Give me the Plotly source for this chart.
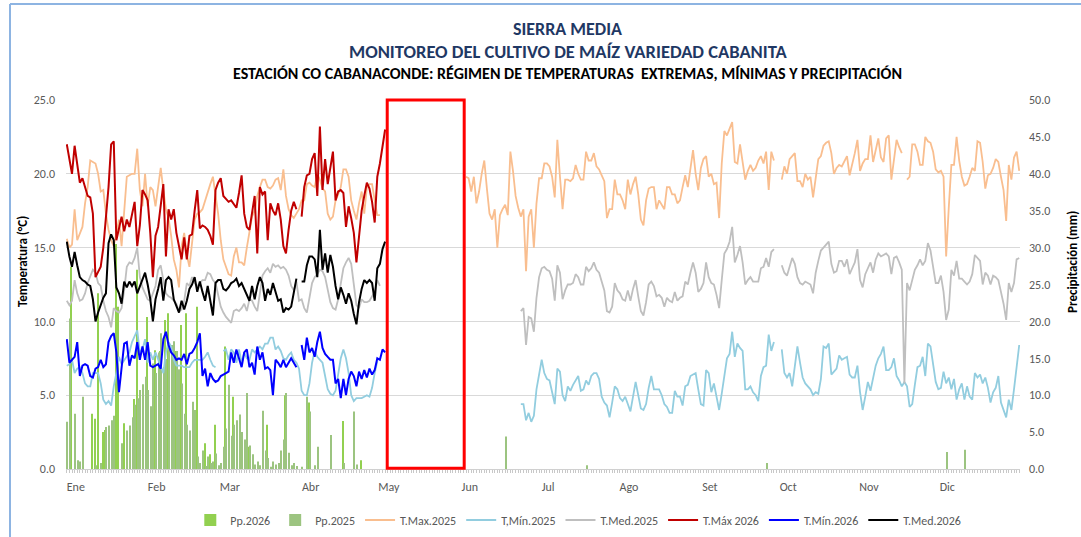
import plotly.graph_objects as go

# ---------------- categories (day of year, 0 = 1 Jan) ----------------
MONTHS = ["Ene", "Feb", "Mar", "Abr", "May", "Jun", "Jul", "Ago", "Set", "Oct", "Nov", "Dic"]
MONTH_START_DAY = [0, 31, 59, 90, 120, 151, 181, 212, 243, 273, 304, 334]

# ---------------- 2026 temperatures (days 0..122) ----------------
T_MAX_2026 = [
    22.0, 21.0, 20.0, 21.9, 20.5, 19.4, 19.7, 19.0, 18.5, 18.4,
    17.3, 13.0, 13.4, 13.7, 15.0, 17.0, 19.1, 22.0, 22.2, 15.5,
    16.3, 17.1, 16.1, 16.9, 16.4, 17.2, 18.1, 15.1, 16.5, 18.9,
    18.6, 18.2, 16.0, 13.0, 15.8, 16.4, 17.8, 19.3, 14.4, 17.6,
    16.9, 17.6, 16.0, 15.0, 14.2, 15.7, 14.2, 15.8, 15.9, 17.5,
    18.9, 16.3, 16.5, 16.4, 16.2, 15.8, 15.2, 18.9, 19.4, 19.7,
    18.5, 18.3, 18.1, 18.2, 17.9, 17.7, 18.7, 19.9, 17.3, 16.4,
    16.2, 17.5, 18.5, 14.6, 19.1, 18.6, 18.8, 15.5, 18.0, 17.5,
    17.2, 18.0, 16.9, 15.1, 14.6, 16.2, 17.5, 18.1, 17.6, None,
    17.1, 19.1, 19.9, 20.0, 21.0, 21.4, 18.5, 23.2, 18.9, 21.0,
    19.3, 20.5, 21.5, 18.2, 18.8, 18.9, 18.7, 16.4, 17.8, 17.0,
    16.0, 14.0, 16.0, 17.5, 18.5, 19.4, 19.0, 18.1, 16.7, 19.8,
    20.7, 21.8, 23.0,
]
T_MIN_2026 = [
    8.8, 7.2, 7.4, 7.6, 8.6, 6.3, 7.0, 7.1, 7.0, 6.3,
    6.2, 6.8, 6.9, 7.4, 6.9, 7.1, 8.6, 9.0, 9.2, 7.9,
    5.2, 6.8, 8.5, 8.6, 7.0, 7.7, 7.5, 8.6, 7.4, 8.3,
    7.4, 8.6, 7.0, 6.9, 7.0, 7.1, 6.8, 8.8, 9.3, 8.4,
    7.9, 7.7, 7.4, 7.5, 7.4, 7.8, 7.1, 7.8, 7.9, 8.2,
    8.6, 9.2, 6.3, 6.8, 5.6, 6.5, 6.1, 5.9, 6.0, 6.3,
    6.4, 6.5, 6.6, 7.9, 7.2, 8.1, 7.4, 6.9, 7.9, 8.1,
    6.9, 7.2, 6.4, 8.3, 7.4, 7.9, 6.8, 6.9, 6.7, 5.0,
    7.4, 7.2, 6.9, 7.4, 6.9, 7.2, 7.5, 7.2, 6.9, None,
    8.4, 7.4, 8.9, 7.9, 8.2, 7.6, 8.6, 9.3, 8.2, 7.8,
    7.6, 7.4, 7.4, 5.8, 6.1, 4.8, 6.1, 5.0, 6.1, 6.6,
    6.3, 5.6, 6.6, 6.1, 6.7, 6.2, 6.8, 6.4, 6.7, 7.5,
    7.4, 8.1, 7.9,
]
T_MED_2026 = [
    15.4, 14.4, 13.7, 14.7, 13.8, 13.0, 12.8, 12.7, 12.5, 12.4,
    11.5, 10.0, 10.6, 11.1, 11.6, 11.9, 15.3, 15.9, 15.5, 12.3,
    11.9, 11.2, 12.7, 12.3, 12.7, 12.4, 12.7, 11.9, 12.4, 12.8,
    13.3, 12.5, 11.5, 10.0, 11.5, 12.2, 13.0, 11.4, 12.8, 13.0,
    12.8, 11.5, 11.0, 10.6, 11.4, 10.8, 11.4, 12.2, 12.5, 13.0,
    12.0, 12.7, 12.0, 11.4, 12.4, 11.5, 10.4, 12.6, 12.8, 12.8,
    12.2, 12.1, 12.3, 12.6, 12.7, 12.9, 12.4, 12.6, 12.2, 11.9,
    11.4, 12.4, 11.5, 12.4, 13.0, 12.6, 11.4, 12.2, 11.8, 12.6,
    12.0, 11.4, 11.5, 10.6, 10.9, 10.8, 11.0, 12.0, 12.9, None,
    12.7, 12.7, 13.8, 14.4, 14.4, 14.2, 13.0, 16.2, 13.5, 14.6,
    13.3, 14.5, 13.7, 12.4, 11.5, 12.3, 11.8, 11.2, 11.9, 11.4,
    10.5, 9.8, 11.3, 12.2, 12.8, 12.6, 12.8, 12.6, 11.4, 13.6,
    13.9, 14.9, 15.4,
]

# ---------------- 2025 temperatures (days 0..365, None = no data) ----------------
T_MAX_2025 = [
    15.6, 15.0, 15.2, 17.6, 15.5, 15.9, 16.4, 18.0, 19.1, 20.9,
    20.8, 20.7, 20.0, 18.8, 18.9, 17.3, 16.2, 15.5, 15.1, 16.0,
    16.9, 15.1, 17.5, 19.8, 19.9, 20.0, 20.0, 21.7, 18.9, 17.8,
    20.0, 17.8, 19.1, 18.9, 17.8, 19.0, 20.4, 18.9, 17.6, 17.0,
    15.8, 14.2, 13.5, 12.3, 15.1, 16.0, 14.5, 13.7, 15.1, 16.9,
    17.3, 17.4, 17.6, 18.2, 18.8, 19.3, 19.8, 18.5, 17.3, 15.5,
    14.2, 13.7, 13.2, 13.1, 14.4, 15.0, 14.0, 14.0, 13.8, 15.0,
    16.2, 17.1, 17.5, 18.5, 19.1, 19.6, 19.6, 19.1, 19.0, 19.2,
    19.6, 19.7, 18.9, 20.3, 18.5, 17.6, 17.2, 17.0, 17.3, 17.6,
    18.2, 18.2, 19.3, 19.4, 19.2, 19.1, 20.0, 19.6, 19.0, 18.8,
    17.3, 16.9, 17.1, 18.2, 18.6, 19.1, 20.3, 20.3, 19.8, 18.2,
    17.5, 16.9, 18.0, 18.8, 17.3, 19.1, 19.3, 19.3, 18.2, 17.2,
    17.2,
] + [None] * 32 + [
    19.8, 19.7, 18.8, 19.8, 18.0, 18.8, 20.0, 20.9, 19.0, 17.3,
    16.9, 17.6, 15.0, 17.2, 17.6, 17.9, 17.2, 21.5, 20.2, 18.5,
    17.7, 17.1, 17.6, 13.4, 17.1, 17.6, 15.0, 18.0, 19.7, 19.7,
    20.7, 20.7, 20.5, 19.8, 18.4, 22.3, 19.8, 17.6, 19.6, 19.6,
    19.5, 19.7, 20.6, 20.0, 19.6, 19.6, 21.5, 20.9, 20.9, 21.4,
    20.5, 20.3, 19.9, 19.5, 17.0, 17.6, 17.6, 19.6, 18.6, 18.6,
    18.2, 17.6, 19.6, 18.6, 19.3, 19.8, 18.6, 16.9, 16.5, 18.2,
    19.0, 19.1, 19.1, 17.6, 18.2, 17.9, 17.6, 19.1, 19.1, 18.6,
    18.6, 18.0, 18.2, 19.1, 19.9, 19.1, 20.4, 21.6, 20.0, 18.9,
    20.4, 21.0, 21.2, 19.8, 20.0, 19.3, 19.4, 17.0, 20.7, 22.9,
    22.6, 23.0, 23.5, 20.8, 20.7, 22.0, 20.7, 19.6, 20.2, 20.6,
    20.2, 20.4, 20.9, 21.2, 20.7, 21.5, 18.9, 21.5, 20.9, None,
    None, 19.6, 20.5, 20.0, 21.0, 21.2, 21.4, 19.5, 19.5, 19.1,
    20.0, 19.6, 19.8, 18.4, 19.6, 21.0, 21.2, 21.9, 22.1, 22.2,
    21.4, 20.0, 20.4, 20.6, 20.5, 20.8, 21.2, 19.9, 20.6, 21.4,
    22.3, 20.2, 20.7, 21.0, 21.0, 22.6, 20.8, 21.6, 22.4, 21.1,
    20.8, 22.4, 22.6, 19.6, 21.1, 22.3, 21.8, 21.4, None, 19.6,
    19.8, 22.0, 22.0, 21.5, 20.6, 20.6, 22.5, 22.2, 22.1, 21.5,
    20.3, 20.1, 20.2, 19.8, 14.4, 17.7, 20.6, 20.6, 22.5, 20.9,
    19.8, 19.2, 19.3, 19.8, 20.4, 20.2, 22.2, 22.1, 20.8, 19.0,
    19.9, 20.0, 20.4, 21.0, 20.8, 19.8, 18.9, 16.8, 20.6, 19.6,
    21.1, 21.5, 20.2,
]
T_MIN_2025 = [
    7.0, 7.1, 7.4, 6.5, 6.8, 6.9, 6.5, 5.8, 5.6, 5.6,
    6.5, 6.5, 6.5, 5.8, 4.7, 4.4, 4.6, 4.3, 5.6, 6.5,
    7.6, 7.1, 7.4, 7.6, 7.9, 8.6, 9.0, 9.4, 7.9, 8.1,
    8.8, 7.2, 7.9, 7.4, 7.9, 7.4, 6.9, 6.5, 7.9, 8.6,
    8.3, 7.4, 7.0, 7.0, 7.0, 6.9, 6.9, 6.9, 7.2, 7.4,
    7.4, 7.4, 7.4, 7.6, 7.9, 7.4, 7.0, 6.9, None, None,
    8.0, 8.1, 7.4, 8.1, 7.9, 7.2, 8.1, 7.2, 7.9, 7.5,
    7.4, 8.1, 7.9, 8.1, 8.3, 8.1, 8.5, 8.5, 8.9, 8.9,
    8.1, 8.3, 8.0, 7.5, 7.4, 7.7, 7.9, 7.4, 7.2, 6.8,
    5.3, 5.0, 5.0, 5.8, 7.2, 8.0, 7.6, 7.4, 7.2, 6.3,
    5.4, 5.1, 5.0, 5.3, 6.3, 7.5, 8.1, 7.5, 6.5, 5.0,
    4.6, 4.8, 4.8, 4.8, 4.9, 5.0, 4.9, 5.5, 6.5, 7.3,
] + [None] * 54 + [
    4.4, 4.4, 3.3, 3.8, 3.2, 3.6, 5.4, 6.3, 7.4, 6.5,
    6.1, 6.0, 5.2, 4.4, 6.8, 6.6, 5.0, 4.6, 5.6, 5.3,
    5.7, 6.0, 6.3, 5.3, 5.4, 6.0, 5.7, 6.3, 6.5, 6.5,
    6.1, 4.9, 4.5, 4.3, 3.5, 4.5, 5.6, 5.4, 4.8, 4.6,
    4.9, 4.4, 3.9, 4.9, 5.9, 5.0, 4.1, 4.0, 4.4, 5.5,
    6.3, 5.4, 5.4, 5.4, 5.0, 4.4, 4.2, 3.8, 3.8, 5.3,
    4.9, 4.9, 4.3, 5.6, 5.7, 6.3, 6.4, 6.5, 5.4, 4.4,
    4.3, 6.7, 6.5, 5.2, 5.8, 5.0, 4.0, 5.1, 6.4, 7.5,
    7.8, 9.3, 7.6, 8.5, 8.2, 8.0, 5.4, 5.4, 5.6, 5.2,
    5.0, 4.6, 6.3, 6.9, 7.0, 9.1, 8.0, 8.6, None, None,
    8.1, 6.5, 6.2, 6.5, 5.6, 7.0, 8.3, 7.2, 6.2, 5.8,
    5.6, 5.4, 5.0, 5.2, 5.1, 6.1, 8.3, 8.2, 8.5, 6.4,
    6.6, 6.8, 7.7, 7.4, 7.5, 7.6, 6.4, 6.2, 6.2, 7.0,
    5.2, 4.0, 4.9, 5.9, 5.3, 6.2, 7.0, 7.5, 7.8, 8.3,
    6.7, 6.7, 6.9, 7.5, 6.3, 6.0, 5.6, 5.9, 5.6, 4.2,
    4.4, 5.7, 6.9, 7.0, 7.6, 6.3, 8.5, 8.3, 7.1, 5.9,
    5.4, 5.5, 6.6, 5.8, 6.2, 5.4, 6.1, 4.7, 5.4, 5.8,
    4.7, 5.6, 4.9, 4.7, 6.5, 6.2, 6.4, 5.8, 6.2, 5.5,
    4.5, 5.2, 5.5, 6.3, 4.5, 4.0, 3.5, 4.7, 4.0, 5.4,
    6.8, 8.4,
]
T_MED_2025 = [
    11.4, 11.1, 11.4, 12.8, 11.9, 11.4, 11.5, 11.9, 12.6, 13.0,
    13.5, 13.3, 12.6, 12.4, 11.4, 10.7, 10.3, 9.6, 10.9, 10.7,
    10.6, 10.9, 12.1, 13.7, 14.0, 13.9, 14.3, 15.0, 13.0, 12.3,
    11.9, 11.5, 11.4, 11.9, 12.4, 13.5, 13.8, 12.8, 11.9, 11.7,
    11.6, 11.4, 11.2, 10.7, 10.8, 11.4, 12.6, 12.4, 13.0, 12.6,
    12.4, 12.6, 12.8, 12.8, 13.3, 13.2, 12.8, 12.6, 11.9, 11.0,
    10.6, 10.3, 10.1, 9.9, 10.7, 10.8, 10.7, 10.9, 11.2, 10.7,
    11.5, 11.4, 11.0, 10.7, 11.9, 13.1, 13.4, 13.6, 13.3, 13.9,
    13.7, 13.8, 13.6, 13.7, 13.5, 13.1, 12.4, 12.1, 12.7, 11.4,
    11.5, 10.9, 10.6, 11.5, 12.6, 13.0, 13.2, 13.5, 13.4, 13.0,
    12.2, 11.3, 10.9, 10.8, 11.5, 12.6, 13.6, 14.0, 14.3, 13.9,
    12.4, 11.1, 10.9, 11.5, 11.3, 11.3, 11.4, 11.7, 12.0, 12.8,
    12.4,
] + [None] * 53 + [
    10.7, 10.9, 8.4, 10.3, 10.2, 9.3, 11.6, 13.0, 13.6, 13.7,
    13.5, 13.4, 12.9, 11.4, 13.8, 13.3, 11.5, 12.1, 12.5, 12.5,
    12.6, 13.2, 13.0, 12.5, 12.5, 13.7, 13.4, 13.6, 14.0, 13.5,
    13.3, 12.6, 12.1, 10.7, 10.6, 11.0, 12.6, 12.1, 11.9, 11.5,
    11.4, 12.1, 11.4, 12.2, 12.8, 11.7, 10.7, 10.4, 11.3, 12.5,
    12.7, 12.4, 11.7, 11.8, 11.6, 11.0, 11.6, 11.4, 11.3, 12.0,
    11.4, 11.6, 11.7, 12.7, 12.5, 13.3, 14.0, 13.3, 12.0, 12.2,
    12.6, 14.0, 13.0, 12.6, 12.5, 11.8, 10.9, 12.8, 14.6, 14.9,
    15.4, 16.4, 14.0, 14.5, 15.1, 14.0, 12.5, 12.8, 13.0, 12.7,
    12.7, 12.7, 13.6, 13.7, 14.3, 13.7, 14.7, 14.9, None, None,
    13.8, 13.3, 13.1, 13.8, 14.3, 13.9, 13.0, 12.6, 12.5, 12.7,
    12.6, 12.5, 11.9, 13.3, 14.1, 14.8, 15.0, 15.2, 15.4, 13.9,
    13.3, 13.4, 14.1, 14.1, 13.7, 14.2, 13.2, 13.6, 14.0, 14.9,
    12.8, 12.3, 13.2, 13.6, 14.0, 13.3, 14.2, 14.6, 14.4, 14.5,
    14.6, 14.4, 13.2, 14.3, 14.4, 14.0, 13.5, 5.8, 12.6, 12.1,
    12.9, 13.5, 13.8, 14.2, 13.8, 14.1, 15.3, 14.8, 13.7, 12.6,
    12.6, 13.1, 12.0, 10.1, 10.8, 13.5, 13.1, 14.1, 12.9, 12.9,
    12.7, 12.5, 12.7, 13.2, 14.5, 14.3, 14.1, 12.5, 13.3, 13.1,
    12.5, 13.1, 13.0, 12.8, 12.1, 11.2, 10.1, 12.6, 12.0, 12.6,
    14.2, 14.3,
]

# ---------------- precipitation (mm), days 0..120 ----------------
PP_2026 = [
    0, 0, 27.4, 0, 0, 0, 0, 0, 0, 0,
    7.5, 6.8, 23.8, 0, 5.0, 5.3, 0, 0, 6.5, 30.5,
    22.0, 0, 6.2, 0, 0, 0, 9.5, 27.0, 0, 0,
    0, 20.6, 0, 0, 16.1, 0, 16.0, 0, 20.2, 21.1,
    0, 0, 16.0, 0, 19.5, 0, 21.1, 0, 0, 4.0,
    22.0, 0, 0, 3.5, 0, 2.0, 0, 6.0, 0, 0,
    0, 16.6, 0, 0, 9.8, 0, 0, 0, 0, 0,
    3.0, 0, 0, 0, 0, 0, 0, 6.0, 0, 0,
    0, 0, 0, 0, 10.0, 0, 0, 0, 0, 0,
    0, 0, 0, 9.0, 0, 0, 0, 0, 0, 0,
    0, 0, 0, 0, 0, 0, 6.5, 0, 0, 0,
    0, 0, 0, 1.2, 0, 0, 0, 0, 0, 0,
    0,
]
PP_2025 = [
    6.4, 20.4, 0, 7.5, 1.2, 1.0, 9.8, 0, 0, 0,
    0, 0.5, 0, 0.8, 0, 5.7, 5.9, 6.6, 7.2, 0,
    0, 3.5, 0, 5.2, 5.9, 7.0, 8.7, 9.6, 10.7, 11.5,
    12.5, 10.7, 8.5, 14.3, 13.0, 15.8, 18.4, 13.8, 14.9, 16.6,
    16.8, 17.3, 16.0, 13.5, 11.6, 7.5, 6.0, 5.2, 9.1, 8.0,
    1.7, 0.8, 2.5, 0.4, 1.7, 0.8, 1.0, 2.1, 0.5, 0.8,
    3.0, 5.5, 11.4, 4.5, 6.0, 6.6, 7.4, 5.0, 4.0, 10.3,
    3.2, 2.0, 0.6, 1.0, 0.5, 7.9, 2.5, 1.5, 0.3, 1.0,
    0.6, 0.8, 2.5, 4.0, 10.3, 2.2, 0.5, 0.8, 0.4, 0,
    0.3, 0, 9.8, 7.8, 0, 0.5, 3.0, 0, 0, 0,
    0, 4.6, 0, 0, 0, 0, 0.8, 0, 0, 0,
    7.8, 0.6, 0, 0, 0, 0, 0, 0, 0, 0,
    0,
]
PP_2025_LATE_DAYS = [168, 199, 268, 337, 344]
PP_2025_LATE_VALS = [4.4, 0.5, 0.8, 2.3, 2.6]

TEMP_TICKS = [0, 5, 10, 15, 20, 25]
PP_TICKS = [0, 5, 10, 15, 20, 25, 30, 35, 40, 45, 50]
GAP_BOX_DAYS = (122.8, 152.3)

FONT = "Carlito, 'Liberation Sans Narrow', 'DejaVu Sans Condensed', 'Open Sans', sans-serif"
GRAY_TXT = "#595959"

fig = go.Figure()

fig.add_trace(go.Bar(x=list(range(len(PP_2026))), y=PP_2026, name="Pp.2026",
                     marker=dict(color="#92D050", line=dict(width=0)), yaxis="y"))
fig.add_trace(go.Bar(x=list(range(len(PP_2025))) + PP_2025_LATE_DAYS,
                     y=PP_2025 + PP_2025_LATE_VALS, name="Pp.2025",
                     marker=dict(color="#9CC480", line=dict(width=0)), yaxis="y"))

def line(y, name, color, width=2.0):
    fig.add_trace(go.Scatter(x=list(range(len(y))), y=y, name=name, mode="lines",
                             line=dict(color=color, width=width), connectgaps=False,
                             yaxis="y2"))

line(T_MAX_2025, "T.Max.2025", "#F9BE8F", 1.8)
line(T_MIN_2025, "T,Mín.2025", "#92CDDF", 1.8)
line(T_MED_2025, "T.Med.2025", "#BFBFBF", 1.8)
line(T_MAX_2026, "T.Máx 2026", "#C00000", 2.0)
line(T_MIN_2026, "T.Mín.2026", "#0000FF", 2.0)
line(T_MED_2026, "T.Med.2026", "#000000", 2.0)

def note(text, x, y, size, color, angle=0):
    return dict(text=text, x=x, y=y, xref="paper", yref="paper", xanchor="center",
                yanchor="middle", showarrow=False, textangle=angle,
                font=dict(family=FONT, size=size, color=color))

ann = [
    note("<b>SIERRA MEDIA</b>", 0.526, (469 - 29) / 369, 18, "#1F3864"),
    note("<b>MONITOREO DEL CULTIVO DE MAÍZ VARIEDAD CABANITA</b>", 0.526, (469 - 51.5) / 369, 18.5, "#1F3864"),
    note("<b>ESTACIÓN CO CABANACONDE: RÉGIMEN DE TEMPERATURAS  EXTREMAS, MÍNIMAS Y PRECIPITACIÓN</b>",
         0.526, (469 - 73.5) / 369, 16, "#000000"),
    note("<b>Temperatura (°C)</b>", (22 - 66) / 954, (469 - 262) / 369, 13, "#000000", -90),
    note("<b>Precipitación (mm)</b>", (1072 - 66) / 954, (469 - 262) / 369, 13, "#000000", -90),
]

shapes = [
    dict(type="rect", xref="x", yref="paper", x0=GAP_BOX_DAYS[0], x1=GAP_BOX_DAYS[1],
         y0=0.002, y1=1.0, line=dict(color="#FF0000", width=3), layer="above"),
    dict(type="line", xref="paper", yref="paper", x0=(10 - 66) / 954, x1=1.2,
         y0=(469 - 4) / 369, y1=(469 - 4) / 369, line=dict(color="#8DB4E2", width=2)),
    dict(type="line", xref="paper", yref="paper", x0=(10 - 66) / 954, x1=(10 - 66) / 954,
         y0=(469 - 4) / 369, y1=-0.3, line=dict(color="#8DB4E2", width=2)),
]

fig.update_layout(
    width=1081, height=537,
    margin=dict(l=66, r=61, t=100, b=68, autoexpand=False),
    paper_bgcolor="white", plot_bgcolor="white",
    barmode="group", bargap=0.2, bargroupgap=0.0,
    font=dict(family=FONT, size=12, color=GRAY_TXT),
    showlegend=True,
    legend=dict(orientation="h", x=0.537, xanchor="center", xref="paper",
                y=(537 - 520) / 537, yanchor="middle", yref="container",
                font=dict(family=FONT, size=12, color=GRAY_TXT), itemwidth=30,
                bgcolor="rgba(0,0,0,0)"),
    annotations=ann, shapes=shapes,
    xaxis=dict(range=[-0.3, 365.3], tickmode="array", tickvals=MONTH_START_DAY, ticktext=MONTHS,
               ticks="", showgrid=False, showline=True, linecolor="#D0D0D0", linewidth=1,
               ticklabelshift=9, ticklabelstandoff=7, zeroline=False,
               tickfont=dict(family=FONT, size=12, color=GRAY_TXT),
               minor=dict(tickmode="linear", tick0=0, dtick=1, ticks="outside", ticklen=3,
                          tickcolor="#C8C8C8", tickwidth=1, showgrid=False)),
    yaxis=dict(range=[0, 50], side="right", tickmode="array", tickvals=PP_TICKS,
               tickformat=".1f", showgrid=False, zeroline=False, showline=False,
               ticklabelstandoff=8, tickfont=dict(family=FONT, size=12, color=GRAY_TXT)),
    yaxis2=dict(range=[0, 25], side="left", overlaying="y", tickmode="array", tickvals=TEMP_TICKS,
                tickformat=".1f", showgrid=True, gridcolor="#D9D9D9", gridwidth=1,
                zeroline=False, showline=False, ticklabelstandoff=10,
                tickfont=dict(family=FONT, size=12, color=GRAY_TXT)),
)

fig.write_html("out.html", config={"displayModeBar": False},
               post_script="document.body.style.margin='0px';")
